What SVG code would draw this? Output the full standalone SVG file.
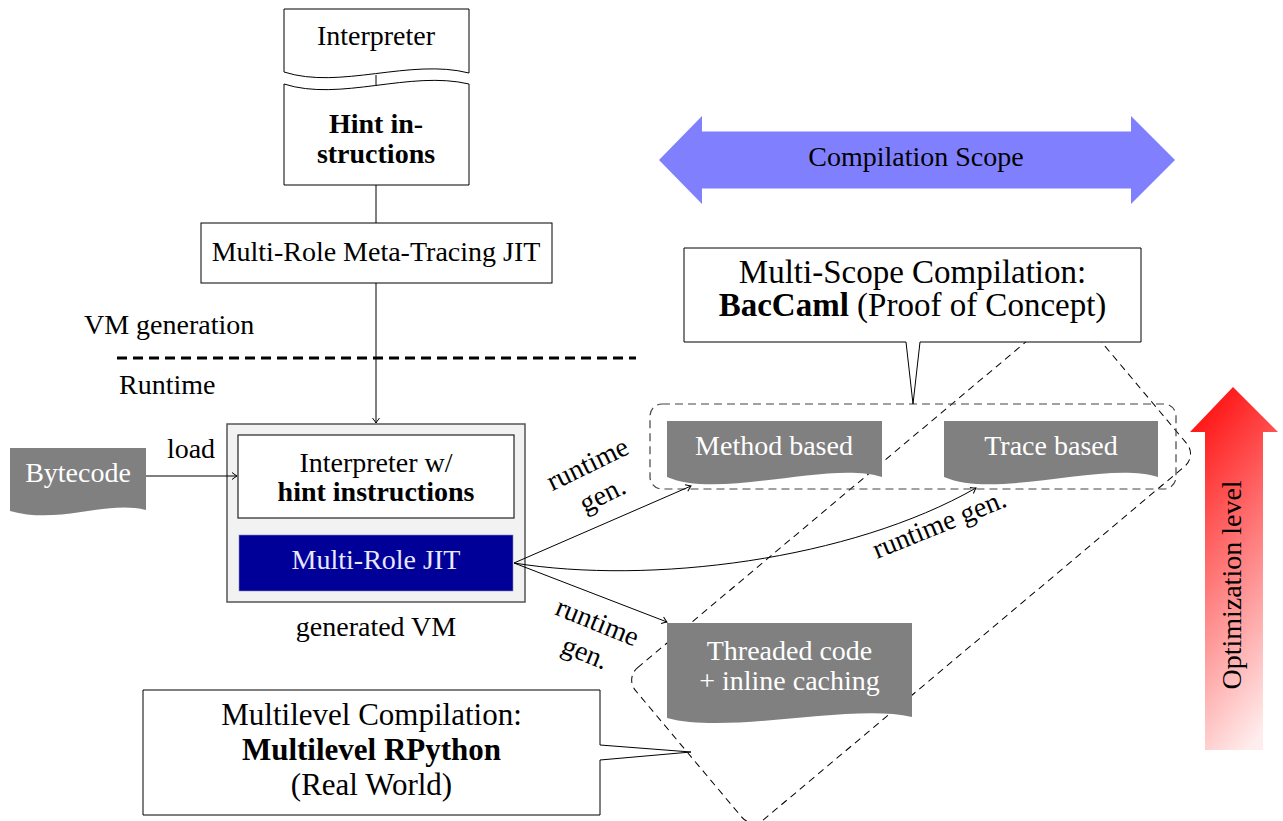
<svg xmlns="http://www.w3.org/2000/svg" width="1283" height="821" viewBox="0 0 1283 821">
<defs>
  <marker id="arr" viewBox="-6 -5 8 10" refX="0" refY="0" markerWidth="8" markerHeight="10" orient="auto" markerUnits="userSpaceOnUse">
    <path d="M-5,-3.5 Q-1.5,-0.8 0,0 Q-1.5,0.8 -5,3.5" fill="none" stroke="#000" stroke-width="1"/>
  </marker>
  <linearGradient id="redg" x1="0.35" y1="0" x2="0.65" y2="1">
    <stop offset="0" stop-color="#ff1414"/>
    <stop offset="1" stop-color="#ffecec"/>
  </linearGradient>
  <style>
    text { font-family: "Liberation Serif", "Times New Roman", serif; font-size: 28px; fill: #000; }
    .c { text-anchor: middle; }
    .b { font-weight: bold; }
    .w { fill: #fff; }
    .edge { fill: none; stroke: #000; stroke-width: 1; }
    .arrow { marker-end: url(#arr); }
    .box { fill: #fff; stroke: #000; stroke-width: 1; }
    .doc { fill: #808080; }
    .call { font-size: 33px; }
    .call2 { font-size: 31px; }
  </style>
</defs>
<rect width="1283" height="821" fill="#fff"/>

<!-- regions -->
<g id="multilevel-region">
  <rect x="-292.5" y="-97.7" width="581" height="197.4" rx="16" transform="translate(912,565) rotate(-40)" fill="none" stroke="#000" stroke-width="1" stroke-dasharray="7 5"/>
</g>
<g id="multiscope-region">
  <rect x="650" y="404" width="526" height="85" rx="12" fill="none" stroke="#444" stroke-width="1.2" stroke-dasharray="8 5"/>
</g>

<!-- separator -->
<g id="separator">
  <line x1="117" y1="358" x2="636" y2="358" stroke="#000" stroke-width="3" stroke-dasharray="10 6"/>
  <text x="84" y="334">VM generation</text>
  <text x="119" y="394">Runtime</text>
</g>

<!-- nodes -->
<g id="interpreter">
  <path class="box" d="M284,9 H469 V73 C410,58 340,90 284,72 Z"/>
  <text class="c" x="376" y="45">Interpreter</text>
</g>
<g id="hint-instructions">
  <path class="box" d="M284,84 C340,102 410,70 469,84 V185 H284 Z"/>
  <text class="c b" x="376" y="133" font-size="32">Hint in-</text>
  <text class="c b" x="376" y="163" font-size="32">structions</text>
</g>
<g id="meta-tracing-jit">
  <rect class="box" x="201" y="223" width="351" height="60"/>
  <text class="c" x="376" y="261" font-size="27">Multi-Role Meta-Tracing JIT</text>
</g>
<g id="bytecode">
  <path class="doc" d="M10,448 H146 V510 C105,500 60,525 10,511 Z"/>
  <text class="c w" x="78" y="482" font-size="27">Bytecode</text>
</g>
<g id="generated-vm">
  <rect x="227" y="424" width="298" height="178" fill="#f2f2f2" stroke="#555" stroke-width="1.5"/>
  <text class="c" x="376" y="636" font-size="23">generated VM</text>
</g>
<g id="interpreter-hint">
  <rect x="238" y="435" width="276" height="83" fill="#fff" stroke="#222" stroke-width="1.2"/>
  <text class="c" x="376" y="472" font-size="28.5">Interpreter w/</text>
  <text class="c b" x="376" y="501">hint instructions</text>
</g>
<g id="multi-role-jit">
  <rect x="239" y="535" width="274" height="56" fill="#000099" stroke="#8888bb" stroke-width="0.6"/>
  <text class="c" x="376" y="569" font-size="27" style="fill:#e8e8ff">Multi-Role JIT</text>
</g>
<g id="compilation-scope">
  <polygon points="659,160 702,116 702,131.5 1131,131.5 1131,116 1175,160 1131,204 1131,188.5 702,188.5 702,204" fill="#8080ff"/>
  <text class="c" x="916" y="166" font-size="25">Compilation Scope</text>
</g>
<g id="method-based">
  <path class="doc" d="M667,421 H882 V477 C830,460 720,500 667,477 Z"/>
  <text class="c w" x="774" y="455" font-size="28.5">Method based</text>
</g>
<g id="trace-based">
  <path class="doc" d="M944,421 H1158 V477 C1106,460 997,500 944,477 Z"/>
  <text class="c w" x="1051" y="455" font-size="27.5">Trace based</text>
</g>
<g id="threaded-code">
  <path class="doc" d="M667,623 H912 V717 C850,703 730,735 667,718 Z"/>
  <text class="c w" x="789.5" y="660" font-size="28.5">Threaded code</text>
  <text class="c w" x="789.5" y="690" font-size="28.5">+ inline caching</text>
</g>
<g id="optimization-level">
  <polygon points="1233,387 1278,432 1263,432 1263,750 1205,750 1205,432 1190,432" fill="url(#redg)"/>
  <text class="c" font-size="26" transform="translate(1241,585) rotate(-90)">Optimization level</text>
</g>

<!-- connectors -->
<g id="connectors">
  <line class="edge" x1="376" y1="75" x2="376" y2="86"/>
  <line class="edge" x1="376" y1="185" x2="376" y2="223"/>
  <line class="edge arrow" x1="376" y1="283" x2="376" y2="423"/>
  <line class="edge arrow" x1="146" y1="476" x2="237" y2="476"/>
  <text class="c" x="191" y="458">load</text>
  <path class="edge arrow" d="M514,563 L691,486"/>
  <path class="edge arrow" d="M514,563 C650,585 850,560 976,488"/>
  <path class="edge arrow" d="M514,563 L667,622"/>
  <g transform="translate(588,465) rotate(-26)">
    <text class="c" x="0" y="8">runtime</text>
    <text class="c" x="0" y="42">gen.</text>
  </g>
  <g transform="translate(597,623) rotate(22)">
    <text class="c" x="0" y="8">runtime</text>
    <text class="c" x="0" y="41">gen.</text>
  </g>
  <text x="0" y="0" font-size="27" transform="translate(877,559) rotate(-22)">runtime gen.</text>
</g>

<!-- callouts -->
<g id="multiscope-callout">
  <path class="box" d="M684,248 H1141 V342 H920 L913,404 L906,342 H684 Z"/>
  <text class="c call" x="912.5" y="283">Multi-Scope Compilation:</text>
  <text class="c call" x="912.5" y="316"><tspan class="b">BacCaml</tspan> (Proof of Concept)</text>
</g>
<g id="multilevel-callout">
  <path class="box" d="M143,690 H600 V745 L691,752 L600,760 V815 H143 Z"/>
  <text class="c call2" x="371.5" y="725">Multilevel Compilation:</text>
  <text class="c call2 b" x="371.5" y="760">Multilevel RPython</text>
  <text class="c call2" x="371.5" y="795">(Real World)</text>
</g>
</svg>
